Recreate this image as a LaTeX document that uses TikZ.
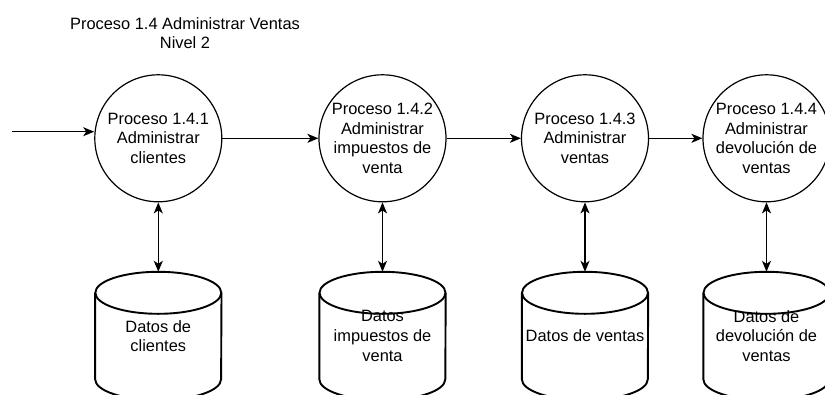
\documentclass[tikz,border=0pt]{standalone}
\usepackage{fontspec}
\setmainfont{Liberation Sans}
\usetikzlibrary{arrows.meta}
\tikzset{
    proceso/.style={shape=circle, draw=black, line width=1.2pt, minimum size=127pt, inner sep=0pt, align=center},
    almacen/.style={shape=rectangle, minimum width=126pt, minimum height=128pt, inner sep=0pt, align=center},
    borde/.style={line width=1.9pt},
    flujo/.style={line width=1.3pt, -{Stealth[length=11pt, width=9pt, inset=3pt]}},
    flujodoble/.style={line width=1.3pt, {Stealth[length=11pt, width=9pt, inset=3pt]}-{Stealth[length=11pt, width=9pt, inset=3pt]}}
}

\begin{document}
\begin{tikzpicture}[x=1pt, y=-1pt, font=\fontsize{16.4}{19.6}\selectfont]
        \useasboundingbox (0,0) rectangle (825,394);
        \clip (0,0) rectangle (825,394);

            \node[align=center] (T) at (185,33) {Proceso 1.4 Administrar Ventas\\Nivel 2};

            \node[proceso] (P1) at (158.3,138.3) {Proceso 1.4.1\\Administrar\\clientes};
            \node[proceso] (P2) at (382.5,138.3) {Proceso 1.4.2\\Administrar\\impuestos de\\venta};
            \node[proceso] (P3) at (585,138.3) {Proceso 1.4.3\\Administrar\\ventas};
            \node[proceso] (P4) at (766.5,138.3) {Proceso 1.4.4\\Administrar\\devoluci\'on de\\ventas};

            \node[almacen] (D1) at (158.3,336) {Datos de\\clientes};
            \node[almacen] (D2) at (382.5,336) {Datos\\impuestos de\\venta};
            \node[almacen] (D3) at (585,336) {Datos de ventas};
            \node[almacen] (D4) at (766.5,336) {Datos de\\devoluci\'on de\\ventas};

            % cilindros de los almacenes
            \foreach \d in {D1,D2,D3,D4}{
                \draw[borde] ([yshift=-21pt]\d.north) ellipse [x radius=63pt, y radius=21pt];
                \draw[borde] ([yshift=-21pt]\d.north west) -- ([yshift=21pt]\d.south west)
                    arc[start angle=180, end angle=360, x radius=63pt, y radius=21pt] -- ([yshift=-21pt]\d.north east);
            }

            \coordinate (E) at (12,131.7);
            \draw[flujo] (E) -- (E -| P1.west);
            \draw[flujo] (P1) -- (P2);
            \draw[flujo] (P2) -- (P3);
            \draw[flujo] (P3) -- (P4);

            \draw[flujodoble] (D1) -- (P1);
            \draw[flujodoble] (D2) -- (P2);
            \draw[flujodoble] (D3) -- (P3);
            \draw[flujodoble] (D4) -- (P4);

        \end{tikzpicture}
\end{document}
